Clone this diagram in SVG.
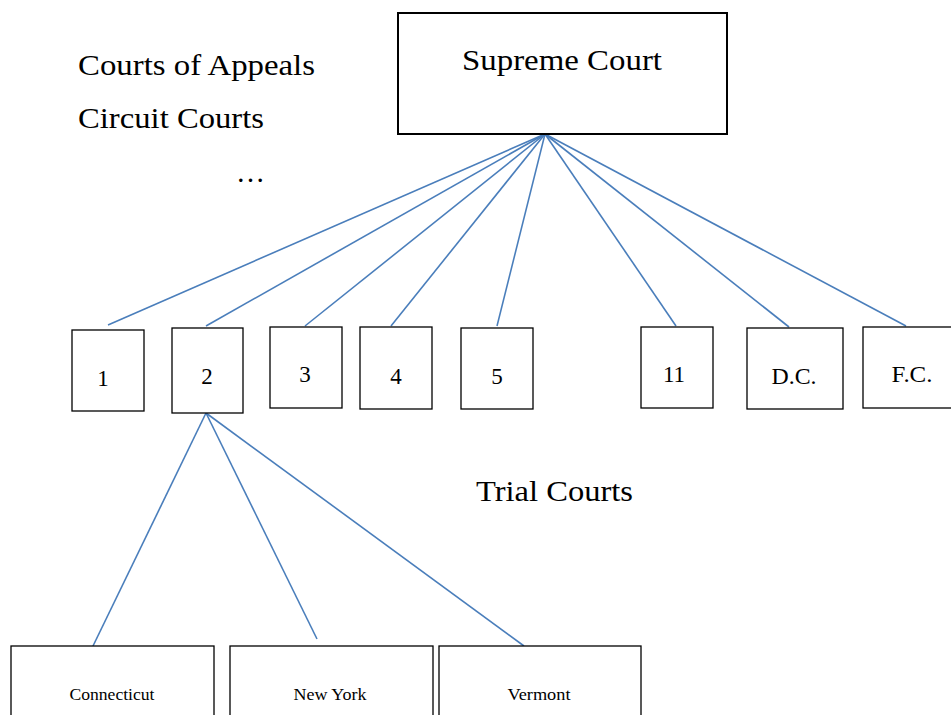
<svg xmlns="http://www.w3.org/2000/svg" width="951" height="715" viewBox="0 0 951 715">
  <style>
    .box { fill: #ffffff; stroke: #000000; stroke-width: 1.3; }
    .top { fill: #ffffff; stroke: #000000; stroke-width: 2; }
    .lbl { font-family: "Liberation Serif", "DejaVu Serif", serif; fill: #000000; }
    .big { font-size: 29px; }
    .num { font-size: 23px; text-anchor: middle; }
    .small { font-size: 16px; text-anchor: middle; }
    .link { stroke: #4a7ebb; stroke-width: 1.6; fill: none; }
  </style>
  <rect width="951" height="715" fill="#ffffff"/>

  <!-- side labels -->
  <text class="lbl big" x="78" y="75" textLength="237" lengthAdjust="spacingAndGlyphs">Courts of Appeals</text>
  <text class="lbl big" x="78" y="128" textLength="186" lengthAdjust="spacingAndGlyphs">Circuit Courts</text>
  <text class="lbl big" x="236" y="182">…</text>
  <text class="lbl big" x="476" y="501" textLength="157" lengthAdjust="spacingAndGlyphs">Trial Courts</text>

  <!-- connectors -->
  <g id="connectors">
    <line class="link" x1="545" y1="134" x2="108" y2="325"/>
    <line class="link" x1="545" y1="134" x2="206" y2="326"/>
    <line class="link" x1="545" y1="134" x2="305" y2="326"/>
    <line class="link" x1="545" y1="134" x2="391" y2="326"/>
    <line class="link" x1="545" y1="134" x2="497" y2="326"/>
    <line class="link" x1="545" y1="134" x2="676" y2="326"/>
    <line class="link" x1="545" y1="134" x2="789" y2="327"/>
    <line class="link" x1="545" y1="134" x2="906" y2="326"/>
    <line class="link" x1="206" y1="413" x2="93" y2="646"/>
    <line class="link" x1="206" y1="413" x2="317" y2="639"/>
    <line class="link" x1="206" y1="413" x2="524" y2="646"/>
  </g>

  <g id="supreme-court">
    <rect class="top" x="398" y="13" width="329" height="121"/>
    <text class="lbl" x="562" y="70" font-size="29" text-anchor="middle" textLength="200" lengthAdjust="spacingAndGlyphs">Supreme Court</text>
  </g>

  <g id="circuit-1">
    <rect class="box" x="72" y="330" width="72" height="81"/>
    <text class="lbl num" x="103" y="386">1</text>
  </g>
  <g id="circuit-2">
    <rect class="box" x="172" y="328" width="71" height="85"/>
    <text class="lbl num" x="207" y="384">2</text>
  </g>
  <g id="circuit-3">
    <rect class="box" x="270" y="327" width="72" height="81"/>
    <text class="lbl num" x="305" y="382">3</text>
  </g>
  <g id="circuit-4">
    <rect class="box" x="360" y="327" width="72" height="82"/>
    <text class="lbl num" x="396" y="384">4</text>
  </g>
  <g id="circuit-5">
    <rect class="box" x="461" y="328" width="72" height="81"/>
    <text class="lbl num" x="497" y="384">5</text>
  </g>
  <g id="circuit-11">
    <rect class="box" x="641" y="327" width="72" height="81"/>
    <text class="lbl num" x="674" y="382">11</text>
  </g>
  <g id="circuit-dc">
    <rect class="box" x="747" y="328" width="96" height="81"/>
    <text class="lbl num" x="794" y="384" textLength="45" lengthAdjust="spacingAndGlyphs">D.C.</text>
  </g>
  <g id="circuit-fc">
    <rect class="box" x="863" y="327" width="92" height="81"/>
    <text class="lbl num" x="912" y="382" textLength="41" lengthAdjust="spacingAndGlyphs">F.C.</text>
  </g>

  <g id="trial-connecticut">
    <rect class="box" x="11" y="646" width="203" height="80"/>
    <text class="lbl small" x="112" y="700" textLength="85" lengthAdjust="spacingAndGlyphs">Connecticut</text>
  </g>
  <g id="trial-new-york">
    <rect class="box" x="230" y="646" width="203" height="80"/>
    <text class="lbl small" x="330" y="700" textLength="73" lengthAdjust="spacingAndGlyphs">New York</text>
  </g>
  <g id="trial-vermont">
    <rect class="box" x="439" y="646" width="202" height="80"/>
    <text class="lbl small" x="539" y="700" textLength="63" lengthAdjust="spacingAndGlyphs">Vermont</text>
  </g>
</svg>
